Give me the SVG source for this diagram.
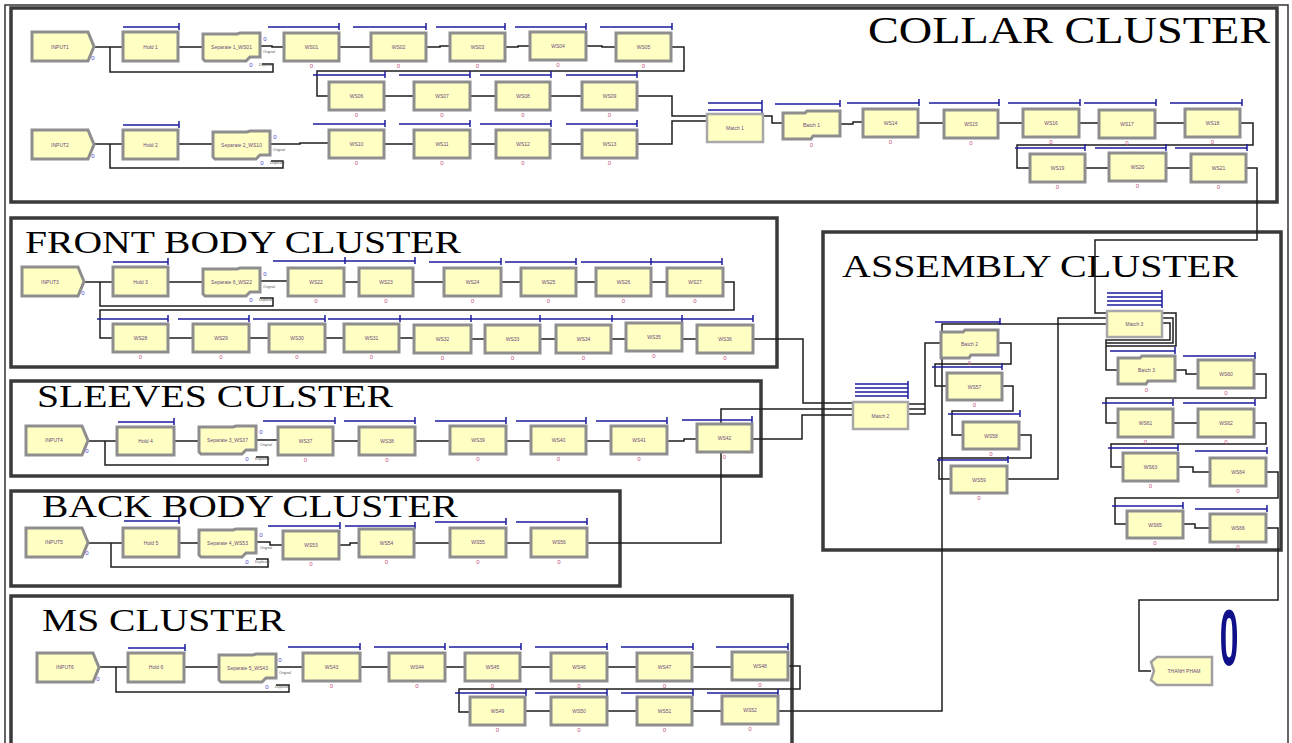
<svg xmlns="http://www.w3.org/2000/svg" width="1292" height="743" viewBox="0 0 1292 743">
<style>
.m{fill:#ffffc4;stroke:#8e8e8e;stroke-width:3}
.mt{fill:#ffffc4;stroke:#a8a8a8;stroke-width:2.5}
.q{fill:none;stroke:#1c1ca0;stroke-width:1.5}
.c{fill:none;stroke:#1e1e1e;stroke-width:1.5}
.fr{fill:none;stroke:#3a3a3a;stroke-width:3.5}
.l{font-family:"Liberation Sans",Arial,sans-serif;font-size:5px;fill:#6a4a7a;text-anchor:middle}
.n{font-family:"Liberation Sans",Arial,sans-serif;font-size:6px;fill:#c8507a;text-anchor:middle}
.b{font-family:"Liberation Sans",Arial,sans-serif;font-size:6px;fill:#4a4ad0;text-anchor:middle}
.s{font-family:"Liberation Sans",Arial,sans-serif;font-size:3.5px;fill:#555}
.t{font-family:"Liberation Serif","Times New Roman",serif;fill:#000}
</style>
<defs>
<path id="sepS" d="M0 1H34L37 0H57V24H47L43 28H2L0 26Z" fill="#ffffc4" stroke="#8e8e8e" stroke-width="3"/>
<path id="batS" d="M0 2H22L24 0H57V25H30L28 28H0Z" fill="#ffffc4" stroke="#8e8e8e" stroke-width="3"/>
<path id="creS" d="M0 0H56L62 14.5L56 29H0Z" fill="#ffffc4" stroke="#8e8e8e" stroke-width="3"/>
<path id="disS" d="M6 0H61V28H6L0 23L3 14L0 5Z" fill="#ffffc4" stroke="#a0a0a0" stroke-width="2.5"/>
</defs>
<rect width="1292" height="743" fill="#fff"/>
<g id="clusters">
<rect x="5" y="5" width="1283" height="745" fill="none" stroke="#333" stroke-width="1.5"/>
<rect class="fr" x="11" y="8" width="1266" height="194" stroke-width="2.5" stroke="#222"/>
<text class="t" x="868" y="43" font-size="38" textLength="402" lengthAdjust="spacingAndGlyphs">COLLAR CLUSTER</text>
<rect class="fr" x="11" y="218" width="766" height="149"/>
<text class="t" x="25" y="253" font-size="31" textLength="436" lengthAdjust="spacingAndGlyphs">FRONT BODY CLUSTER</text>
<rect class="fr" x="11" y="381" width="750" height="95"/>
<text class="t" x="37" y="407" font-size="31" textLength="356" lengthAdjust="spacingAndGlyphs">SLEEVES CULSTER</text>
<rect class="fr" x="11" y="491" width="609" height="95"/>
<text class="t" x="42" y="517" font-size="31" textLength="416" lengthAdjust="spacingAndGlyphs">BACK BODY CLUSTER</text>
<rect class="fr" x="11" y="596" width="781" height="160"/>
<text class="t" x="42" y="631" font-size="32" textLength="243" lengthAdjust="spacingAndGlyphs">MS CLUSTER</text>
<rect class="fr" x="823" y="232" width="458" height="318"/>
<text class="t" x="842" y="277" font-size="31" textLength="396" lengthAdjust="spacingAndGlyphs">ASSEMBLY CLUSTER</text>
</g>
<g id="connectors">
<path class="c" d="M94 47H123M110 47V72H273V64H262M178 47H203M260 46H272V47H284M339 47H371M426 47H440V46H450M505 47H518V46H530M586 46H602V47H616"/>
<path class="c" d="M671 47H684V71H317V96H329M384 96H414M470 96H496M550 96H582M637 96H672V116H707"/>
<path class="c" d="M94 144H123M110 144V168H283V161H271M177 144H213M271 144H300V143H329M384 144H414M470 144H496M550 144H582M637 144H672V121H707"/>
<path class="c" d="M763 116H772V123H783M840 124H853V122H863M918 123H944M998 123H1023M1079 123H1099M1155 123H1185M1240 123H1253V145H1017V168H1030M1085 168H1109M1166 168H1191M1246 168H1257V240H1095V313H1107"/>
<path class="c" d="M83 282H113M100 282V306H273V298H260M168 282H203M260 281H288M344 282H359M413 282H444M501 282H521M576 282H596M651 282H667M723 282H734V310H100V338H113"/>
<path class="c" d="M168 338H193M249 338H269M325 338H344M399 338H414M471 339H485M540 339H556M611 339H626M682 339H697M753 339H803V403H853"/>
<path class="c" d="M87 441H117M105 441V465H268V457H256M174 441H199M256 440H278M333 441H359M415 441H450M506 441H531M586 441H611M667 441H684V439H697M752 439H802V415H853"/>
<path class="c" d="M87 543H123M111 543V567H268V559H256M179 543H199M256 542H270V545H283M339 545H350V543H359M414 543H450M506 543H531M587 543H721V409H853"/>
<path class="c" d="M99 667H128M116 667V692H289V685H276M184 667H219M276 667H303M360 667H389M445 667H465M520 667H551M607 667H637M692 667H732M788 666H800V689H459V712H470M525 711H551M607 711H637M692 711H722M778 711H942V324H1107"/>
<path class="c" d="M908 404H925M908 409H925M908 414H925V343H941M998 343H1011V364H935V386H947M1002 386H1013V411H952V435H963M1019 435H1031V458H939V479H951M1007 479H1058V318H1107"/>
<path class="c" d="M1162 313H1176V346H1106V370H1118M1162 318H1173V343H1106M1162 323H1170V340H1106V346M1174 370H1186V374H1198M1254 374H1266V398H1106V423H1118M1173 423H1198M1254 423H1266V444H1111V467H1123M1178 467H1193V472H1210M1266 472H1278V498H1115V524H1127M1183 524H1195V528H1210M1266 528H1278V600H1139V671H1151"/>
</g>
<g id="input1"><use href="#creS" x="32" y="32"/><text class="l" x="60" y="48.5">INPUT1</text><text class="b" x="93" y="60">0</text></g>
<g id="hold1"><path class="q" d="M123 27H179m0-4v7"/><rect class="m" x="123" y="32" width="55" height="29"/><text class="l" x="150.5" y="48.5">Hold 1</text></g>
<g id="separate1"><use href="#sepS" x="203" y="33"/><text class="l" x="231.5" y="49">Separate 1_WS01</text><text class="b" x="265" y="41">0</text><text class="s" x="263" y="53">Original</text><text class="b" x="251" y="67">0</text><text class="s" x="259" y="66">Duplicate</text></g>
<g id="ws01"><path class="q" d="M268 27H339m0-4v7"/><rect class="m" x="284" y="33" width="55" height="28"/><text class="l" x="311.5" y="49">WS01</text><text class="n" x="311.5" y="68">0</text></g>
<g id="ws02"><path class="q" d="M353 27H426m0-4v7"/><rect class="m" x="371" y="33" width="55" height="28"/><text class="l" x="398.5" y="49">WS02</text><text class="n" x="398.5" y="68">0</text></g>
<g id="ws03"><path class="q" d="M436 27H505m0-4v7"/><rect class="m" x="450" y="33" width="55" height="28"/><text class="l" x="477.5" y="49">WS03</text><text class="n" x="477.5" y="68">0</text></g>
<g id="ws04"><path class="q" d="M515 27H586m0-4v7"/><rect class="m" x="530" y="32" width="56" height="28"/><text class="l" x="558" y="48">WS04</text><text class="n" x="558" y="67">0</text></g>
<g id="ws05"><path class="q" d="M600 27H672m0-4v7"/><rect class="m" x="616" y="33" width="55" height="28"/><text class="l" x="643.5" y="49">WS05</text><text class="n" x="643.5" y="68">0</text></g>
<g id="ws06"><path class="q" d="M313 75H385m0-4v7"/><rect class="m" x="329" y="82" width="55" height="28"/><text class="l" x="356.5" y="98">WS06</text><text class="n" x="356.5" y="117">0</text></g>
<g id="ws07"><path class="q" d="M399 75H470m0-4v7"/><rect class="m" x="414" y="82" width="56" height="28"/><text class="l" x="442" y="98">WS07</text><text class="n" x="442" y="117">0</text></g>
<g id="ws08"><path class="q" d="M480 75H551m0-4v7"/><rect class="m" x="496" y="82" width="54" height="28"/><text class="l" x="523" y="98">WS08</text><text class="n" x="523" y="117">0</text></g>
<g id="ws09"><path class="q" d="M566 75H637m0-4v7"/><rect class="m" x="582" y="82" width="55" height="28"/><text class="l" x="609.5" y="98">WS09</text><text class="n" x="609.5" y="117">0</text></g>
<g id="input2"><use href="#creS" x="32" y="130"/><text class="l" x="60" y="146.5">INPUT2</text><text class="b" x="93" y="158">0</text></g>
<g id="hold2"><path class="q" d="M123 125H179m0-4v7"/><rect class="m" x="123" y="130" width="55" height="29"/><text class="l" x="150.5" y="146.5">Hold 2</text></g>
<g id="separate2"><use href="#sepS" x="213" y="131"/><text class="l" x="241.5" y="147">Separate 2_WS10</text><text class="b" x="275" y="139">0</text><text class="s" x="273" y="151">Original</text><text class="b" x="262" y="165">0</text><text class="s" x="270" y="164">Duplicate</text></g>
<g id="ws10"><path class="q" d="M313 124H385m0-4v7"/><rect class="m" x="329" y="130" width="55" height="28"/><text class="l" x="356.5" y="146">WS10</text><text class="n" x="356.5" y="165">0</text></g>
<g id="ws11"><path class="q" d="M399 124H470m0-4v7"/><rect class="m" x="414" y="130" width="56" height="28"/><text class="l" x="442" y="146">WS11</text><text class="n" x="442" y="165">0</text></g>
<g id="ws12"><path class="q" d="M480 124H551m0-4v7"/><rect class="m" x="496" y="130" width="54" height="28"/><text class="l" x="523" y="146">WS12</text><text class="n" x="523" y="165">0</text></g>
<g id="ws13"><path class="q" d="M566 124H637m0-4v7"/><rect class="m" x="582" y="130" width="55" height="28"/><text class="l" x="609.5" y="146">WS13</text><text class="n" x="609.5" y="165">0</text></g>
<g id="match1"><path class="q" d="M708 103H762M708 110H762M762 100V113"/><rect class="mt" x="707" y="114" width="56" height="28"/><text class="l" x="735" y="130">Match 1</text></g>
<g id="batch1"><path class="q" d="M775 104H840m0-4v7"/><use href="#batS" x="783" y="111"/><text class="l" x="811.5" y="127">Batch 1</text><text class="n" x="811.5" y="147">0</text></g>
<g id="ws14"><path class="q" d="M847 103H919m0-4v7"/><rect class="m" x="863" y="109" width="55" height="28"/><text class="l" x="890.5" y="125">WS14</text><text class="n" x="890.5" y="144">0</text></g>
<g id="ws15"><path class="q" d="M929 103H999m0-4v7"/><rect class="m" x="944" y="110" width="54" height="28"/><text class="l" x="971" y="126">WS15</text><text class="n" x="971" y="145">0</text></g>
<g id="ws16"><path class="q" d="M1008 103H1080m0-4v7"/><rect class="m" x="1023" y="109" width="56" height="28"/><text class="l" x="1051" y="125">WS16</text><text class="n" x="1051" y="144">0</text></g>
<g id="ws17"><path class="q" d="M1084 103H1156m0-4v7"/><rect class="m" x="1099" y="110" width="56" height="28"/><text class="l" x="1127" y="126">WS17</text><text class="n" x="1127" y="145">0</text></g>
<g id="ws18"><path class="q" d="M1170 103H1242m0-4v7"/><rect class="m" x="1185" y="109" width="55" height="28"/><text class="l" x="1212.5" y="125">WS18</text><text class="n" x="1212.5" y="144">0</text></g>
<g id="ws19"><path class="q" d="M1015 148H1085m0-4v7"/><rect class="m" x="1030" y="154" width="55" height="28"/><text class="l" x="1057.5" y="170">WS19</text><text class="n" x="1057.5" y="189">0</text></g>
<g id="ws20"><path class="q" d="M1095 148H1166m0-4v7"/><rect class="m" x="1109" y="153" width="57" height="28"/><text class="l" x="1137.5" y="169">WS20</text><text class="n" x="1137.5" y="188">0</text></g>
<g id="ws21"><path class="q" d="M1175 148H1247m0-4v7"/><rect class="m" x="1191" y="154" width="55" height="28"/><text class="l" x="1218.5" y="170">WS21</text><text class="n" x="1218.5" y="189">0</text></g>
<g id="input3"><use href="#creS" x="22" y="267"/><text class="l" x="50" y="283.5">INPUT3</text><text class="b" x="83" y="295">0</text></g>
<g id="hold3"><path class="q" d="M113 262H168m0-4v7"/><rect class="m" x="113" y="267" width="55" height="29"/><text class="l" x="140.5" y="283.5">Hold 3</text></g>
<g id="separate6"><use href="#sepS" x="203" y="268"/><text class="l" x="231.5" y="284">Separate 6_WS22</text><text class="b" x="265" y="276">0</text><text class="s" x="263" y="288">Original</text><text class="b" x="251" y="302">0</text><text class="s" x="259" y="301">Duplicate</text></g>
<g id="ws22"><path class="q" d="M273 261H345m0-4v7"/><rect class="m" x="288" y="268" width="56" height="28"/><text class="l" x="316" y="284">WS22</text><text class="n" x="316" y="303">0</text></g>
<g id="ws23"><path class="q" d="M345 261H415m0-4v7"/><rect class="m" x="359" y="268" width="54" height="28"/><text class="l" x="386" y="284">WS23</text><text class="n" x="386" y="303">0</text></g>
<g id="ws24"><path class="q" d="M429 262H501m0-4v7"/><rect class="m" x="444" y="268" width="57" height="28"/><text class="l" x="472.5" y="284">WS24</text><text class="n" x="472.5" y="303">0</text></g>
<g id="ws25"><path class="q" d="M505 262H576m0-4v7"/><rect class="m" x="521" y="268" width="55" height="28"/><text class="l" x="548.5" y="284">WS25</text><text class="n" x="548.5" y="303">0</text></g>
<g id="ws26"><path class="q" d="M581 262H651m0-4v7"/><rect class="m" x="596" y="268" width="55" height="28"/><text class="l" x="623.5" y="284">WS26</text><text class="n" x="623.5" y="303">0</text></g>
<g id="ws27"><path class="q" d="M651 262H722m0-4v7"/><rect class="m" x="667" y="268" width="56" height="28"/><text class="l" x="695" y="284">WS27</text><text class="n" x="695" y="303">0</text></g>
<g id="ws28"><path class="q" d="M97 319H168m0-4v7"/><rect class="m" x="113" y="324" width="55" height="28"/><text class="l" x="140.5" y="340">WS28</text><text class="n" x="140.5" y="359">0</text></g>
<g id="ws29"><path class="q" d="M178 319H249m0-4v7"/><rect class="m" x="193" y="324" width="56" height="28"/><text class="l" x="221" y="340">WS29</text><text class="n" x="221" y="359">0</text></g>
<g id="ws30"><path class="q" d="M253 319H325m0-4v7"/><rect class="m" x="269" y="324" width="56" height="28"/><text class="l" x="297" y="340">WS30</text><text class="n" x="297" y="359">0</text></g>
<g id="ws31"><path class="q" d="M328 319H400m0-4v7"/><rect class="m" x="344" y="324" width="55" height="28"/><text class="l" x="371.5" y="340">WS31</text><text class="n" x="371.5" y="359">0</text></g>
<g id="ws32"><path class="q" d="M400 319H471m0-4v7"/><rect class="m" x="414" y="325" width="57" height="28"/><text class="l" x="442.5" y="341">WS32</text><text class="n" x="442.5" y="360">0</text></g>
<g id="ws33"><path class="q" d="M471 319H540m0-4v7"/><rect class="m" x="485" y="325" width="55" height="28"/><text class="l" x="512.5" y="341">WS33</text><text class="n" x="512.5" y="360">0</text></g>
<g id="ws34"><path class="q" d="M540 319H612m0-4v7"/><rect class="m" x="556" y="325" width="55" height="28"/><text class="l" x="583.5" y="341">WS34</text><text class="n" x="583.5" y="360">0</text></g>
<g id="ws35"><path class="q" d="M612 319H682m0-4v7"/><rect class="m" x="626" y="323" width="56" height="28"/><text class="l" x="654" y="339">WS35</text><text class="n" x="654" y="358">0</text></g>
<g id="ws36"><path class="q" d="M682 319H753m0-4v7"/><rect class="m" x="697" y="325" width="56" height="28"/><text class="l" x="725" y="341">WS36</text><text class="n" x="725" y="360">0</text></g>
<g id="input4"><use href="#creS" x="26" y="426"/><text class="l" x="54" y="442">INPUT4</text><text class="b" x="87" y="453">0</text></g>
<g id="hold4"><path class="q" d="M118 422H174m0-4v7"/><rect class="m" x="117" y="427" width="57" height="28"/><text class="l" x="145.5" y="443">Hold 4</text></g>
<g id="separate3"><use href="#sepS" x="199" y="426"/><text class="l" x="227.5" y="442">Separate 3_WS37</text><text class="b" x="261" y="434">0</text><text class="s" x="260" y="446">Original</text><text class="b" x="247" y="461">0</text><text class="s" x="255" y="460">Duplicate</text></g>
<g id="ws37"><path class="q" d="M263 421H335m0-4v7"/><rect class="m" x="278" y="427" width="55" height="28"/><text class="l" x="305.5" y="443">WS37</text><text class="n" x="305.5" y="462">0</text></g>
<g id="ws38"><path class="q" d="M344 421H415m0-4v7"/><rect class="m" x="359" y="427" width="56" height="28"/><text class="l" x="387" y="443">WS38</text><text class="n" x="387" y="462">0</text></g>
<g id="ws39"><path class="q" d="M435 421H506m0-4v7"/><rect class="m" x="450" y="426" width="56" height="28"/><text class="l" x="478" y="442">WS39</text><text class="n" x="478" y="461">0</text></g>
<g id="ws40"><path class="q" d="M516 421H586m0-4v7"/><rect class="m" x="531" y="426" width="55" height="28"/><text class="l" x="558.5" y="442">WS40</text><text class="n" x="558.5" y="461">0</text></g>
<g id="ws41"><path class="q" d="M596 421H667m0-4v7"/><rect class="m" x="611" y="426" width="56" height="28"/><text class="l" x="639" y="442">WS41</text><text class="n" x="639" y="461">0</text></g>
<g id="ws42"><path class="q" d="M682 420H752m0-4v7"/><rect class="m" x="697" y="424" width="55" height="28"/><text class="l" x="724.5" y="440">WS42</text><text class="n" x="724.5" y="459">0</text></g>
<g id="input5"><use href="#creS" x="26" y="528"/><text class="l" x="54" y="544">INPUT5</text><text class="b" x="87" y="555">0</text></g>
<g id="hold5"><path class="q" d="M124 521H179m0-4v7"/><rect class="m" x="123" y="528" width="56" height="29"/><text class="l" x="151" y="544.5">Hold 5</text></g>
<g id="separate4"><use href="#sepS" x="199" y="529"/><text class="l" x="227.5" y="545">Separate 4_WS53</text><text class="b" x="261" y="537">0</text><text class="s" x="260" y="549">Original</text><text class="b" x="247" y="564">0</text><text class="s" x="255" y="563">Duplicate</text></g>
<g id="ws53"><path class="q" d="M268 526H340m0-4v7"/><rect class="m" x="283" y="531" width="56" height="28"/><text class="l" x="311" y="547">WS53</text><text class="n" x="311" y="566">0</text></g>
<g id="ws54"><path class="q" d="M345 526H415m0-4v7"/><rect class="m" x="359" y="529" width="55" height="28"/><text class="l" x="386.5" y="545">WS54</text><text class="n" x="386.5" y="564">0</text></g>
<g id="ws55"><path class="q" d="M435 522H506m0-4v7"/><rect class="m" x="450" y="528" width="56" height="29"/><text class="l" x="478" y="544">WS55</text><text class="n" x="478" y="564">0</text></g>
<g id="ws56"><path class="q" d="M516 522H587m0-4v7"/><rect class="m" x="531" y="528" width="56" height="29"/><text class="l" x="559" y="544">WS56</text><text class="n" x="559" y="564">0</text></g>
<g id="input6"><use href="#creS" x="37" y="653"/><text class="l" x="65" y="669">INPUT6</text><text class="b" x="98" y="681">0</text></g>
<g id="hold6"><path class="q" d="M128 648H185m0-4v7"/><rect class="m" x="128" y="653" width="56" height="29"/><text class="l" x="156" y="669">Hold 6</text></g>
<g id="separate5"><use href="#sepS" x="219" y="654"/><text class="l" x="247.5" y="670">Separate 5_WS43</text><text class="b" x="280" y="662">0</text><text class="s" x="279" y="674">Original</text><text class="b" x="267" y="689">0</text><text class="s" x="275" y="688">Duplicate</text></g>
<g id="ws43"><path class="q" d="M288 647H360m0-4v7"/><rect class="m" x="303" y="653" width="57" height="28"/><text class="l" x="331.5" y="669">WS43</text><text class="n" x="331.5" y="688">0</text></g>
<g id="ws44"><path class="q" d="M374 647H445m0-4v7"/><rect class="m" x="389" y="653" width="56" height="28"/><text class="l" x="417" y="669">WS44</text><text class="n" x="417" y="688">0</text></g>
<g id="ws45"><path class="q" d="M449 647H521m0-4v7"/><rect class="m" x="465" y="653" width="55" height="28"/><text class="l" x="492.5" y="669">WS45</text><text class="n" x="492.5" y="688">0</text></g>
<g id="ws46"><path class="q" d="M535 647H607m0-4v7"/><rect class="m" x="551" y="653" width="56" height="28"/><text class="l" x="579" y="669">WS46</text><text class="n" x="579" y="688">0</text></g>
<g id="ws47"><path class="q" d="M621 647H693m0-4v7"/><rect class="m" x="637" y="653" width="55" height="28"/><text class="l" x="664.5" y="669">WS47</text><text class="n" x="664.5" y="688">0</text></g>
<g id="ws48"><path class="q" d="M716 647H788m0-4v7"/><rect class="m" x="732" y="652" width="56" height="28"/><text class="l" x="760" y="668">WS48</text><text class="n" x="760" y="687">0</text></g>
<g id="ws49"><path class="q" d="M455 693H526m0-4v7"/><rect class="m" x="470" y="697" width="55" height="28"/><text class="l" x="497.5" y="713">WS49</text><text class="n" x="497.5" y="732">0</text></g>
<g id="ws50"><path class="q" d="M535 693H607m0-4v7"/><rect class="m" x="551" y="697" width="56" height="28"/><text class="l" x="579" y="713">WS50</text><text class="n" x="579" y="732">0</text></g>
<g id="ws51"><path class="q" d="M621 693H693m0-4v7"/><rect class="m" x="637" y="697" width="55" height="28"/><text class="l" x="664.5" y="713">WS51</text><text class="n" x="664.5" y="732">0</text></g>
<g id="ws52"><path class="q" d="M707 693H778m0-4v7"/><rect class="m" x="722" y="696" width="56" height="28"/><text class="l" x="750" y="712">WS52</text><text class="n" x="750" y="731">0</text></g>
<g id="match2"><path class="q" d="M855 384H908M855 388H908M855 392H908M855 396H908M908 381V399"/><rect class="mt" x="853" y="402" width="55" height="27"/><text class="l" x="880.5" y="417.5">Match 2</text></g>
<g id="batch2"><path class="q" d="M935 322H1000m0-4v7"/><use href="#batS" x="941" y="330"/><text class="l" x="969.5" y="346">Batch 2</text><text class="n" x="969.5" y="365">0</text></g>
<g id="ws57"><path class="q" d="M932 367H1002m0-4v7"/><rect class="m" x="947" y="373" width="55" height="27"/><text class="l" x="974.5" y="388.5">WS57</text><text class="n" x="974.5" y="407">0</text></g>
<g id="ws58"><path class="q" d="M948 414H1020m0-4v7"/><rect class="m" x="963" y="422" width="56" height="27"/><text class="l" x="991" y="437.5">WS58</text><text class="n" x="991" y="456">0</text></g>
<g id="ws59"><path class="q" d="M937 460H1008m0-4v7"/><rect class="m" x="951" y="466" width="56" height="27"/><text class="l" x="979" y="481.5">WS59</text><text class="n" x="979" y="500">0</text></g>
<g id="match3"><path class="q" d="M1107 293H1162M1107 297H1162M1107 301H1162M1107 305H1162M1162 290V308"/><rect class="mt" x="1107" y="311" width="55" height="26"/><text class="l" x="1134.5" y="326">Match 3</text></g>
<g id="batch3"><path class="q" d="M1110 351H1175m0-4v7"/><use href="#batS" x="1118" y="356"/><text class="l" x="1146.5" y="372">Batch 3</text><text class="n" x="1146.5" y="392">0</text></g>
<g id="ws60"><path class="q" d="M1183 356H1255m0-4v7"/><rect class="m" x="1198" y="360" width="56" height="28"/><text class="l" x="1226" y="376">WS60</text><text class="n" x="1226" y="395">0</text></g>
<g id="ws61"><path class="q" d="M1102 403H1173m0-4v7"/><rect class="m" x="1118" y="409" width="55" height="28"/><text class="l" x="1145.5" y="425">WS61</text><text class="n" x="1145.5" y="444">0</text></g>
<g id="ws62"><path class="q" d="M1183 403H1255m0-4v7"/><rect class="m" x="1198" y="409" width="56" height="28"/><text class="l" x="1226" y="425">WS62</text><text class="n" x="1226" y="444">0</text></g>
<g id="ws63"><path class="q" d="M1108 448H1178m0-4v7"/><rect class="m" x="1123" y="453" width="55" height="28"/><text class="l" x="1150.5" y="469">WS63</text><text class="n" x="1150.5" y="488">0</text></g>
<g id="ws64"><path class="q" d="M1195 451H1267m0-4v7"/><rect class="m" x="1210" y="458" width="56" height="28"/><text class="l" x="1238" y="474">WS64</text><text class="n" x="1238" y="493">0</text></g>
<g id="ws65"><path class="q" d="M1112 506H1183m0-4v7"/><rect class="m" x="1127" y="511" width="56" height="27"/><text class="l" x="1155" y="526.5">WS65</text><text class="n" x="1155" y="545">0</text></g>
<g id="ws66"><path class="q" d="M1195 509H1267m0-4v7"/><rect class="m" x="1210" y="514" width="56" height="28"/><text class="l" x="1238" y="530">WS66</text><text class="n" x="1238" y="549">0</text></g>
<g id="thanhpham"><use href="#disS" x="1151" y="657"/><text class="l" x="1184" y="673">THANH PHAM</text></g>
<g id="counter"><text x="0" y="0" transform="translate(1229 665) scale(0.42 1)" text-anchor="middle" font-family="Liberation Sans, Arial, sans-serif" font-weight="bold" font-size="80" fill="#10108a">0</text></g>
</svg>
